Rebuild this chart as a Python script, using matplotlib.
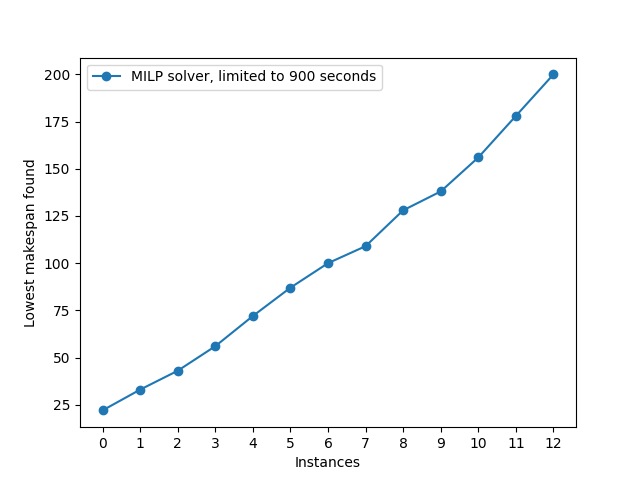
import matplotlib
matplotlib.use("Agg")
import matplotlib.pyplot as plt

instances = list(range(13))
makespan = [22, 33, 43, 56, 72, 87, 100, 109, 128, 138, 156, 178, 200]

fig, ax = plt.subplots(figsize=(6.4, 4.8), dpi=100)
ax.plot(instances, makespan, marker="o", label="MILP solver, limited to 900 seconds")
ax.set_xticks(instances)
ax.set_xlabel("Instances")
ax.set_ylabel("Lowest makespan found")
ax.legend(loc="upper left")
fig.savefig("out.png")
